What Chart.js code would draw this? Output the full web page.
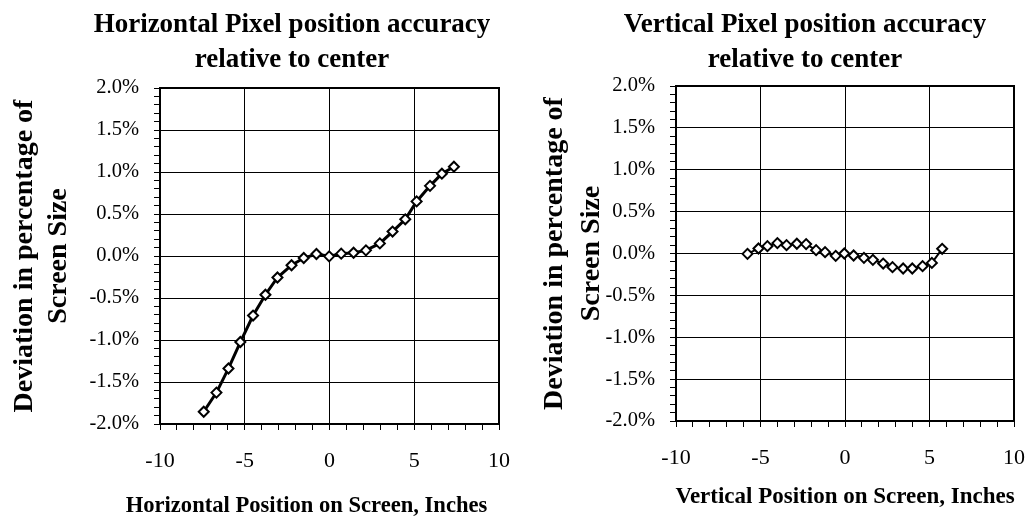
<!DOCTYPE html>
<html>
<head>
<meta charset="utf-8">
<script src="https://cdn.jsdelivr.net/npm/chart.js@4.4.1/dist/chart.umd.min.js"></script>
<style>
  html, body { margin: 0; padding: 0; background: #fff; overflow: hidden; width: 1028px; height: 519px; }
  canvas { position: absolute; top: 0; }
  #c1 { left: 0; }
  #c2 { left: 514px; }
</style>
</head>
<body>
<canvas id="c1" width="584" height="519"></canvas>
<canvas id="c2" width="582" height="519"></canvas>
<script>
// ---- data ----
const horizPositions = [-7.42, -6.67, -5.96, -5.26, -4.51, -3.78, -3.07, -2.24, -1.52, -0.77, -0.02, 0.69, 1.42, 2.15, 2.97, 3.72, 4.47, 5.14, 5.93, 6.63, 7.34];
const horizDeviation = [-1.854, -1.626, -1.339, -1.024, -0.709, -0.461, -0.256, -0.110, -0.024, 0.024, -0.004, 0.028, 0.039, 0.067, 0.150, 0.291, 0.437, 0.650, 0.835, 0.980, 1.063];
const vertPositions = [-5.77, -5.12, -4.59, -4.00, -3.46, -2.85, -2.30, -1.71, -1.18, -0.55, -0.04, 0.51, 1.12, 1.65, 2.26, 2.81, 3.44, 3.98, 4.59, 5.14, 5.75];
const vertDeviation = [-0.004, 0.060, 0.088, 0.124, 0.100, 0.116, 0.112, 0.040, 0.016, -0.028, 0.000, -0.024, -0.052, -0.076, -0.120, -0.163, -0.179, -0.179, -0.151, -0.112, 0.056];
const horizTitle = ['Horizontal Pixel position accuracy', 'relative to center'];
const vertTitle = ['Vertical Pixel position accuracy', 'relative to center'];
const yAxisTitle = ['Deviation in percentage of', 'Screen Size'];
const horizXTitle = 'Horizontal Position on Screen, Inches';
const vertXTitle = 'Vertical Position on Screen, Inches';
const xRange = [-10, 10];
const yRange = [-2, 2];

const SERIF = "'Liberation Serif', 'Times New Roman', serif";

const frame = {
  id: 'frame',
  beforeDatasetsDraw(chart) {
    const a = chart.chartArea, ctx = chart.ctx;
    ctx.save();
    ctx.strokeStyle = '#000';
    ctx.lineWidth = 2;
    ctx.strokeRect(a.left, a.top, a.right - a.left, a.bottom - a.top);
    ctx.restore();
  }
};

// x-axis caption, centred relative to the plot with a small offset (as in the original)
const xCaption = {
  id: 'xCaption',
  afterDraw(chart, args, opts) {
    const a = chart.chartArea, ctx = chart.ctx;
    ctx.save();
    ctx.fillStyle = '#000';
    ctx.font = 'bold ' + opts.size + 'px ' + SERIF;
    ctx.textAlign = 'center';
    ctx.textBaseline = 'middle';
    ctx.fillText(opts.text, (a.left + a.right) / 2 + opts.shift, opts.y);
    ctx.restore();
  }
};

function isMajor(v, step) {
  const r = Math.round(v * 10);
  return r % step === 0;
}

function makeChart(id, cfg) {
  const pts = cfg.xs.map((x, i) => ({ x: x, y: cfg.ys[i] }));
  return new Chart(document.getElementById(id), {
    type: 'scatter',
    data: {
      datasets: [{
        data: pts,
        showLine: true,
        borderColor: '#000',
        borderWidth: cfg.lineWidth,
        pointStyle: 'rectRot',
        pointRadius: 5,
        pointBorderWidth: 2,
        pointBackgroundColor: '#fff',
        pointBorderColor: '#000',
        tension: 0
      }]
    },
    options: {
      responsive: false,
      animation: false,
      events: [],
      layout: { padding: 0 },
      plugins: {
        legend: { display: false },
        tooltip: { enabled: false },
        title: {
          display: true,
          text: cfg.title,
          color: '#000',
          font: { family: SERIF, size: 27, weight: 'bold', lineHeight: 35 / 27 },
          padding: { top: 7.5, bottom: cfg.titleBottom }
        },
        xCaption: { text: cfg.xTitle, size: cfg.xTitleSize, shift: cfg.xTitleShift, y: cfg.xTitleY }
      },
      scales: {
        x: {
          type: 'linear',
          position: 'bottom',
          min: xRange[0], max: xRange[1],
          afterFit: s => { s.height = cfg.xAxisHeight; },
          ticks: {
            stepSize: 1,
            autoSkip: false,
            maxRotation: 0,
            padding: 18,
            color: '#000',
            font: { family: SERIF, size: 22 },
            callback: v => (Math.round(v) % 5 === 0 ? String(Math.round(v)) : '')
          },
          grid: {
            drawOnChartArea: true,
            tickLength: 6,
            lineWidth: 1,
            color: c => (c.tick && Math.round(c.tick.value) % 5 === 0 ? '#000' : 'rgba(0,0,0,0)'),
            tickColor: '#000'
          },
          border: { display: false },
          title: { display: false }
        },
        y: {
          type: 'linear',
          position: 'left',
          min: yRange[0], max: yRange[1],
          afterFit: s => { s.width = cfg.yAxisWidth; },
          ticks: {
            stepSize: 0.1,
            autoSkip: false,
            padding: 15,
            color: '#000',
            font: { family: SERIF, size: 20.5 },
            callback: v => (isMajor(v, 5) ? (Math.round(v * 10) / 10).toFixed(1) + '%' : '')
          },
          grid: {
            drawOnChartArea: true,
            tickLength: 6,
            lineWidth: 1,
            color: c => (c.tick && isMajor(c.tick.value, 5) ? '#000' : 'rgba(0,0,0,0)'),
            tickColor: '#000'
          },
          border: { display: false },
          title: {
            display: true,
            text: yAxisTitle,
            color: '#000',
            font: { family: SERIF, size: 28, weight: 'bold', lineHeight: cfg.yTitleLH / 28 },
            padding: { top: cfg.yTitlePad, bottom: 0 }
          }
        },
        pad: {
          type: 'linear',
          position: 'right',
          display: true,
          afterFit: s => { s.width = cfg.rightPad; },
          ticks: { display: false },
          grid: { display: false },
          border: { display: false },
          title: { display: false }
        }
      }
    },
    plugins: [frame, xCaption]
  });
}

makeChart('c1', {
  xs: horizPositions, ys: horizDeviation, title: horizTitle, xTitle: horizXTitle,
  lineWidth: 3, titleBottom: 10.5, xAxisHeight: 95,
  xTitleSize: 22.6, xTitleShift: -23, xTitleY: 506,
  yAxisWidth: 160, yTitleLH: 33.3, yTitlePad: 8.4, rightPad: 85
});
makeChart('c2', {
  xs: vertPositions, ys: vertDeviation, title: vertTitle, xTitle: vertXTitle,
  lineWidth: 2, titleBottom: 8.5, xAxisHeight: 98,
  xTitleSize: 23, xTitleShift: 0, xTitleY: 497,
  yAxisWidth: 162, yTitleLH: 36.7, yTitlePad: 22.6, rightPad: 82
});
</script>
</body>
</html>
